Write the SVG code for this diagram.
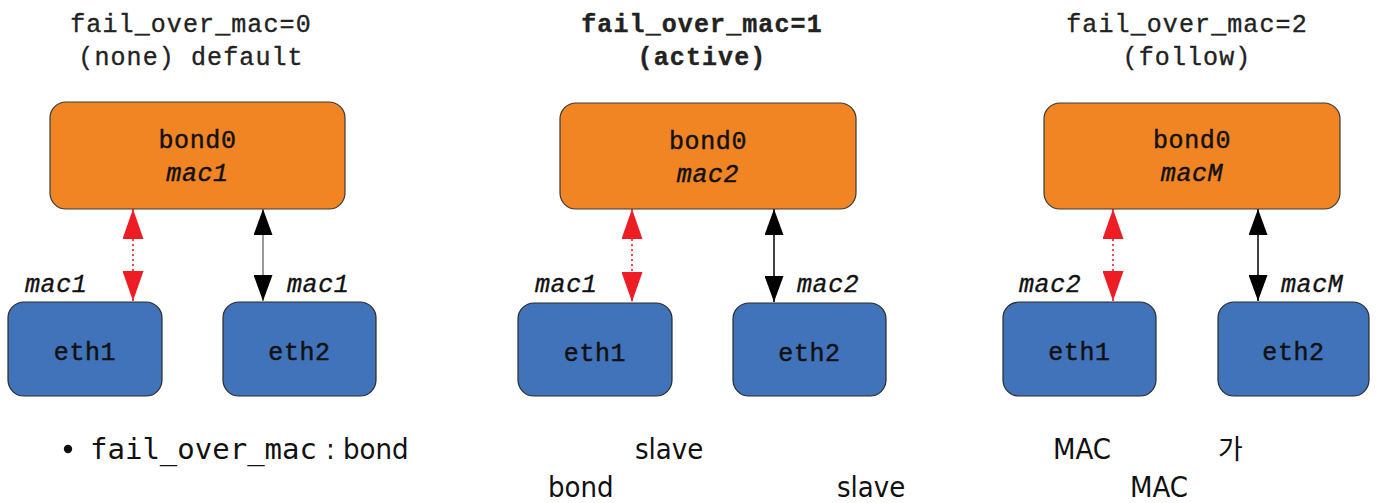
<svg xmlns="http://www.w3.org/2000/svg" width="1377" height="503" viewBox="0 0 1377 503">
<style>
.title{font-family:"Liberation Mono","DejaVu Sans Mono",monospace;font-size:25px;letter-spacing:1.1px;fill:#222;stroke:#222;stroke-width:0.35;text-anchor:middle}
.bold{font-weight:bold}
.bond{fill:#F18523;stroke:#3a3a3a;stroke-width:1.2}
.eth{fill:#4073B9;stroke:#2a2a2a;stroke-width:1.2}
.lbl{font-family:"Liberation Mono","DejaVu Sans Mono",monospace;font-size:25px;letter-spacing:0.6px;fill:#111;stroke:#111;stroke-width:0.45;text-anchor:middle}
.it{font-family:"Liberation Mono","DejaVu Sans Mono",monospace;font-size:25px;font-style:italic;letter-spacing:0.6px;fill:#111;stroke:#111;stroke-width:0.35}
.red{stroke:#EE1D24;stroke-width:1.6;stroke-dasharray:2 3;fill:none}
.blk{stroke:#111;stroke-width:1.6;fill:none}
.gry{stroke:#999;stroke-width:2;fill:none}
.body{font-family:"DejaVu Sans Condensed","DejaVu Sans",sans-serif;font-stretch:condensed;font-size:29px;fill:#111}
.mono{font-family:"DejaVu Sans Mono",monospace;font-size:29px;fill:#111}
.kr{font-family:"Noto Sans CJK KR","DejaVu Sans",sans-serif;font-size:27px;fill:#111}
</style>
<defs>
<marker id="hr" markerUnits="userSpaceOnUse" markerWidth="30" markerHeight="21" refX="30" refY="10.5" orient="auto-start-reverse" viewBox="0 0 30 21">
<path d="M0,0 L30,10.5 L0,21 z" fill="#EE1D24"/>
</marker>
<marker id="hb" markerUnits="userSpaceOnUse" markerWidth="26" markerHeight="19" refX="26" refY="9.5" orient="auto-start-reverse" viewBox="0 0 26 19">
<path d="M0,0 L26,9.5 L0,19 z" fill="#000"/>
</marker>
</defs>

<g id="titles">
<text class="title" x="191" y="32">fail_over_mac=0</text>
<text class="title" x="191" y="65">(none) default</text>
<text class="title bold" x="702" y="32">fail_over_mac=1</text>
<text class="title bold" x="702" y="65">(active)</text>
<text class="title" x="1187" y="32">fail_over_mac=2</text>
<text class="title" x="1187" y="65">(follow)</text>
</g>

<g id="connectors">
<line class="red" x1="133" y1="209" x2="133" y2="301" marker-start="url(#hr)" marker-end="url(#hr)"/>
<line class="gry" x1="263" y1="209" x2="263" y2="301" marker-start="url(#hb)" marker-end="url(#hb)"/>
<line class="red" x1="632" y1="209" x2="632" y2="302" marker-start="url(#hr)" marker-end="url(#hr)"/>
<line class="blk" x1="774" y1="209" x2="774" y2="302" marker-start="url(#hb)" marker-end="url(#hb)"/>
<line class="red" x1="1113" y1="209" x2="1113" y2="301" marker-start="url(#hr)" marker-end="url(#hr)"/>
<line class="blk" x1="1258" y1="209" x2="1258" y2="301" marker-start="url(#hb)" marker-end="url(#hb)"/>
</g>

<g id="p1-bond0">
<rect class="bond" x="50" y="102" width="295" height="107" rx="16"/>
<text class="lbl" x="197.5" y="148">bond0</text>
<text class="lbl" x="197.5" y="181" font-style="italic">mac1</text>
</g>
<g id="p1-eth1">
<rect class="eth" x="8" y="302" width="154" height="94" rx="16"/>
<text class="lbl" x="85" y="360">eth1</text>
</g>
<g id="p1-eth2">
<rect class="eth" x="223" y="302" width="153" height="94" rx="16"/>
<text class="lbl" x="299.5" y="360">eth2</text>
</g>
<g id="p1-labels">
<text class="it" x="25" y="292">mac1</text>
<text class="it" x="287" y="292">mac1</text>
</g>

<g id="p2-bond0">
<rect class="bond" x="560" y="103" width="296" height="106" rx="16"/>
<text class="lbl" x="708" y="149">bond0</text>
<text class="lbl" x="708" y="182" font-style="italic">mac2</text>
</g>
<g id="p2-eth1">
<rect class="eth" x="518" y="303" width="154" height="93" rx="16"/>
<text class="lbl" x="595" y="361">eth1</text>
</g>
<g id="p2-eth2">
<rect class="eth" x="733" y="303" width="153" height="93" rx="16"/>
<text class="lbl" x="809.5" y="361">eth2</text>
</g>
<g id="p2-labels">
<text class="it" x="535" y="292">mac1</text>
<text class="it" x="797" y="292">mac2</text>
</g>

<g id="p3-bond0">
<rect class="bond" x="1044" y="103" width="296" height="106" rx="16"/>
<text class="lbl" x="1192" y="148">bond0</text>
<text class="lbl" x="1192" y="181" font-style="italic">macM</text>
</g>
<g id="p3-eth1">
<rect class="eth" x="1003" y="302" width="153" height="94" rx="16"/>
<text class="lbl" x="1079.5" y="360">eth1</text>
</g>
<g id="p3-eth2">
<rect class="eth" x="1218" y="302" width="151" height="94" rx="16"/>
<text class="lbl" x="1293.5" y="360">eth2</text>
</g>
<g id="p3-labels">
<text class="it" x="1019" y="292">mac2</text>
<text class="it" x="1281" y="292">macM</text>
</g>

<g id="caption">
<circle cx="68" cy="449" r="4.2" fill="#111"/>
<text class="mono" x="90" y="459">fail_over_mac</text>
<text class="body" x="326" y="459">:</text>
<text class="body" x="343" y="459">bond</text>
<text class="body" x="635" y="459">slave</text>
<text class="body" x="1053" y="459">MAC</text>
<text class="kr" x="1218" y="459">가</text>
<text class="body" x="548" y="497">bond</text>
<text class="body" x="837" y="497">slave</text>
<text class="body" x="1130" y="497">MAC</text>
</g>
</svg>
